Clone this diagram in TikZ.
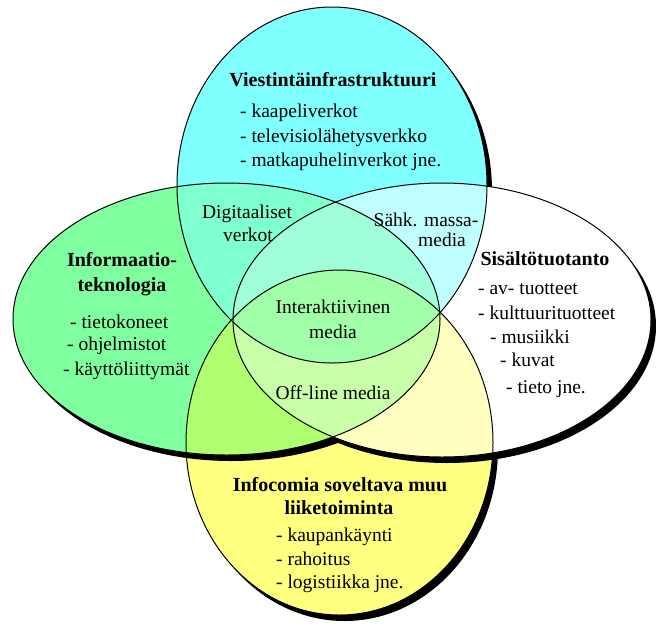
\documentclass[tikz,border=0pt]{standalone}
\usepackage{fontspec}
\setmainfont{Liberation Serif}
\definecolor{cA}{HTML}{80FFFF}
\definecolor{cB}{HTML}{80FFA0}
\definecolor{cC}{HTML}{FFFFFF}
\definecolor{cD}{HTML}{FFFF80}
\definecolor{cAB}{HTML}{80FFD0}
\definecolor{cAC}{HTML}{C0FFFF}
\definecolor{cABC}{HTML}{A0FFD8}
\definecolor{cBD}{HTML}{B0FF70}
\definecolor{cCD}{HTML}{FFFFC0}
\definecolor{cBCD}{HTML}{C8FFA8}
\definecolor{cALL}{HTML}{A0FFA8}
\def\pA{(332,185) ellipse [x radius=155pt, y radius=178pt]}
\def\pB{(226.5,319) ellipse [x radius=213.5pt, y radius=136pt]}
\def\pC{(442,320) ellipse [x radius=209pt, y radius=137pt]}
\def\pD{(339.5,442.5) ellipse [x radius=153.5pt, y radius=172.5pt]}
\tikzset{
  txt/.style={inner sep=0pt, font=\fontsize{19.5}{24}\selectfont},
  hd/.style={txt, anchor=base, font=\fontsize{20}{24}\selectfont\bfseries},
  ctr/.style={txt, anchor=base},
  lft/.style={txt, anchor=base west},
  shad/.style={fill=black, xshift=5pt, yshift=-6pt},
  outl/.style={draw=black, line width=1pt}
}
\begin{document}
\begin{tikzpicture}[x=1pt,y=-1pt]
\fill[white] (0,0) rectangle (661,633);
\useasboundingbox (0,0) rectangle (661,633);
% bottom ellipse
\fill[shad] \pD;
\fill[cD] \pD;
% top ellipse
\fill[shad] \pA;
\fill[cA] \pA;
% left and right ellipses
\fill[shad] \pB;
\fill[shad] \pC;
\fill[cB] \pB;
\fill[cC] \pC;
% overlaps
\begin{scope}\clip \pA; \fill[cAB] \pB; \end{scope}
\begin{scope}\clip \pA; \fill[cAC] \pC; \end{scope}
\begin{scope}\clip \pB; \fill[cBD] \pD; \end{scope}
\begin{scope}\clip \pC; \fill[cCD] \pD; \end{scope}
\begin{scope}\clip \pA; \clip \pB; \fill[cABC] \pC; \end{scope}
\begin{scope}\clip \pB; \clip \pC; \fill[cBCD] \pD; \end{scope}
\begin{scope}\clip \pA; \fill[cALL] \pD; \end{scope}
% outlines
\draw[outl] \pD;
\draw[outl] \pA;
\draw[outl] \pB;
\draw[outl] \pC;
% texts: top
\node[hd] (tA) at (333,86) {Viestintäinfrastruktuuri};
\node[lft] (a1) at (240,117) {- kaapeliverkot};
\node[lft] (a2) at (240,142) {- televisiolähetysverkko};
\node[lft] (a3) at (240,166) {- matkapuhelinverkot jne.};
% left
\node[hd] (tB1) at (122,266) {Informaatio-};
\node[hd] (tB2) at (122,291) {teknologia};
\node[lft] (b1) at (70,328) {- tietokoneet};
\node[lft] (b2) at (67,350) {- ohjelmistot};
\node[lft] (b3) at (63,375) {- käyttöliittymät};
% overlaps
\node[ctr] (ab1) at (247,218) {Digitaaliset};
\node[ctr] (ab2) at (248,241) {verkot};
\node[ctr] (ac1) at (426,226) {Sähk. massa-};
\node[ctr] (ac2) at (442,246) {media};
\node[ctr] (m1) at (333,313) {Interaktiivinen};
\node[ctr] (m2) at (333,338) {media};
\node[ctr] (off) at (333,399) {Off-line media};
% right
\node[hd] (tC) at (545,265) {Sisältötuotanto};
\node[lft] (c1) at (478,294) {- av- tuotteet};
\node[lft] (c2) at (478,319) {- kulttuurituotteet};
\node[lft] (c3) at (490,343) {- musiikki};
\node[lft] (c4) at (500,366) {- kuvat};
\node[lft] (c5) at (506,393) {- tieto jne.};
% bottom
\node[hd] (tD1) at (340,491) {Infocomia soveltava muu};
\node[hd] (tD2) at (339,514) {liiketoiminta};
\node[lft] (d1) at (276,541) {- kaupankäynti};
\node[lft] (d2) at (276,565) {- rahoitus};
\node[lft] (d3) at (276,588) {- logistiikka jne.};
\end{tikzpicture}
\end{document}
